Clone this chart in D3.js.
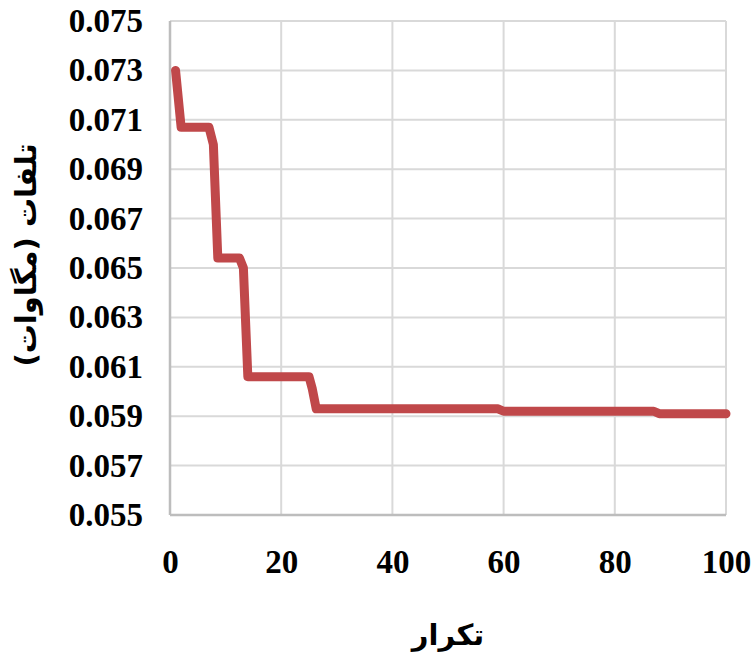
<!DOCTYPE html>
<html>
<head>
<meta charset="utf-8">
<script src="https://cdn.jsdelivr.net/npm/d3@7"></script>
<style>
  body { margin: 0; background: #fff; }
  svg { display: block; }
</style>
</head>
<body>
<div id="chart"></div>
<script>
// iteration number vs. loss (MW), step points
var iterations = [1, 2, 7, 7.8, 8.6, 12.5, 13.2, 14, 25, 25.6, 26.3, 59, 60, 87, 88, 100];
var losses = [0.0730, 0.0707, 0.0707, 0.0700, 0.0654, 0.0654, 0.0650, 0.0606, 0.0606, 0.0601, 0.0593, 0.0593, 0.0592, 0.0592, 0.0591, 0.0591];

var xTicks = [0, 20, 40, 60, 80, 100];
var yTicks = [0.055, 0.057, 0.059, 0.061, 0.063, 0.065, 0.067, 0.069, 0.071, 0.073, 0.075];

var xTitle = 'تکرار';
var yTitle = 'تلفات (مگاوات)';

var width = 752,
  height = 657,
  margin = { top: 21, right: 26, bottom: 142, left: 170 };

var svg = d3.select('#chart').append('svg')
  .attr('width', width)
  .attr('height', height);

var x = d3.scaleLinear().domain([0, 100]).range([margin.left, width - margin.right]);
var y = d3.scaleLinear().domain([0.055, 0.075]).range([height - margin.bottom, margin.top]);

// grid
var grid = svg.append('g');
grid.selectAll('line.h').data(yTicks).enter().append('line')
  .attr('class', 'h')
  .attr('x1', x(0)).attr('x2', x(100))
  .attr('y1', function(d) { return y(d); })
  .attr('y2', function(d) { return y(d); })
  .attr('stroke', '#d9d9d9')
  .attr('stroke-width', 2);
grid.selectAll('line.v').data(xTicks).enter().append('line')
  .attr('class', 'v')
  .attr('y1', y(0.055)).attr('y2', y(0.075))
  .attr('x1', function(d) { return x(d); })
  .attr('x2', function(d) { return x(d); })
  .attr('stroke', '#d9d9d9')
  .attr('stroke-width', 2);

// axis lines
svg.append('line')
  .attr('x1', x(0)).attr('x2', x(0))
  .attr('y1', y(0.055)).attr('y2', y(0.075))
  .attr('stroke', '#bdbdbd').attr('stroke-width', 2.5);
svg.append('line')
  .attr('x1', x(0)).attr('x2', x(100))
  .attr('y1', y(0.055)).attr('y2', y(0.055))
  .attr('stroke', '#bdbdbd').attr('stroke-width', 2.5);

// tick labels
var labelFont = '"Liberation Serif", "Times New Roman", serif';

var yAxis = d3.axisLeft(y).tickValues(yTicks).tickFormat(d3.format('.3f')).tickSize(0).tickPadding(27);
svg.append('g')
  .attr('transform', 'translate(' + x(0) + ',0)')
  .call(yAxis)
  .call(function(g) { g.select('.domain').remove(); })
  .selectAll('text')
  .attr('font-family', labelFont)
  .attr('font-weight', 'bold')
  .attr('font-size', 33)
  .attr('fill', '#000');

var xAxis = d3.axisBottom(x).tickValues(xTicks).tickFormat(d3.format('d')).tickSize(0).tickPadding(35);
svg.append('g')
  .attr('transform', 'translate(0,' + y(0.055) + ')')
  .call(xAxis)
  .call(function(g) { g.select('.domain').remove(); })
  .selectAll('text')
  .attr('font-family', labelFont)
  .attr('font-weight', 'bold')
  .attr('font-size', 33)
  .attr('fill', '#000');

// titles
svg.append('text')
  .attr('x', x(50))
  .attr('y', 645)
  .attr('text-anchor', 'middle')
  .attr('font-family', '"DejaVu Sans", sans-serif')
  .attr('font-weight', 'bold')
  .attr('font-size', 29)
  .attr('fill', '#000')
  .text(xTitle);

svg.append('text')
  .attr('transform', 'translate(36,' + 255 + ') rotate(-90)')
  .attr('text-anchor', 'middle')
  .attr('font-family', '"DejaVu Sans", sans-serif')
  .attr('font-weight', 'bold')
  .attr('font-size', 29)
  .attr('fill', '#000')
  .text(yTitle);

// loss curve
var line = d3.line()
  .x(function(d) { return x(d[0]); })
  .y(function(d) { return y(d[1]); });

svg.append('path')
  .datum(d3.zip(iterations, losses))
  .attr('d', line)
  .attr('fill', 'none')
  .attr('stroke', '#c0484a')
  .attr('stroke-width', 9)
  .attr('stroke-linejoin', 'round')
  .attr('stroke-linecap', 'round');
</script>
</body>
</html>
